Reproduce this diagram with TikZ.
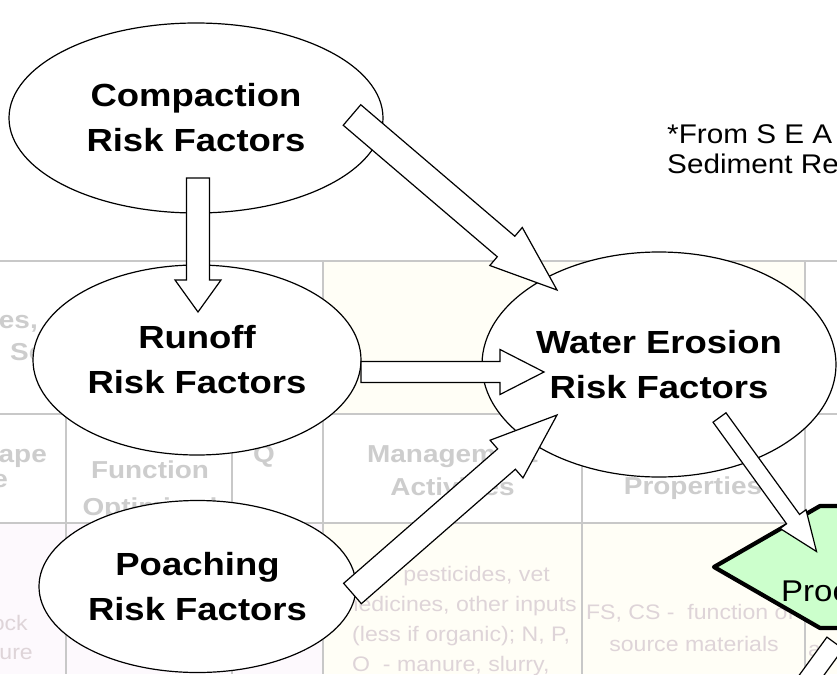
\documentclass[tikz,border=0pt]{standalone}
\usepackage{fontspec}
\setmainfont{Liberation Sans}
\newfontfamily\lblfont[FakeStretch=1.14]{Liberation Sans}
\newfontfamily\notefont[FakeStretch=1.1]{Liberation Sans}
\usetikzlibrary{calc,shapes.geometric}

\definecolor{gridline}{RGB}{200,200,200}
\definecolor{cream}{RGB}{255,254,246}
\definecolor{blush}{RGB}{253,249,253}
\definecolor{hdrtext}{RGB}{205,205,205}
\definecolor{celltext}{RGB}{222,212,216}
\definecolor{boxgreen}{RGB}{204,255,204}

% block arrow: tail, tip, half shaft width, half head width, head length
\newcommand{\blockarrow}[5]{%
  \coordinate (ba-h) at ($(#2)!#5!(#1)$);
  \filldraw[arrowbody]
    ($(#1)!#3!90:(#2)$) -- ($(ba-h)!#3!90:(#2)$) -- ($(ba-h)!#4!90:(#2)$) --
    (#2) --
    ($(ba-h)!#4!-90:(#2)$) -- ($(ba-h)!#3!-90:(#2)$) -- ($(#1)!#3!-90:(#2)$) -- cycle;
}

\begin{document}
\begin{tikzpicture}[x=1pt,y=-1pt,
  grid/.style={draw=gridline, line width=1.8pt},
  risk/.style={ellipse, draw=black, line width=1.2pt, fill=white, inner sep=0pt,
    align=center, font=\lblfont\fontsize{32pt}{45pt}\selectfont\bfseries},
  arrowbody/.style={draw=black, fill=white, line width=1.2pt},
  hdr/.style={inner sep=0pt, text=hdrtext, font=\lblfont\fontsize{24.5pt}{33pt}\selectfont\bfseries},
  cell/.style={inner sep=0pt, text=celltext, font=\notefont\fontsize{21pt}{30pt}\selectfont},
  note/.style={inner sep=0pt, anchor=base west, font=\notefont\fontsize{27pt}{30pt}\selectfont},
]
\useasboundingbox (0,0) rectangle (837,674);
\clip (0,0) rectangle (837,674);
\fill[white] (0,0) rectangle (837,674);

% faint table in the background
\fill[cream] (323,261) rectangle (805,414);
\fill[blush] (0,523) rectangle (323,674);
\fill[cream] (323,523) rectangle (837,674);
\draw[grid] (0,261) -- (837,261);
\draw[grid] (0,414) -- (837,414);
\draw[grid] (0,523) -- (837,523);
\foreach \gx in {323,805} \draw[grid] (\gx,261) -- (\gx,674);
\foreach \gx in {66,232,582} \draw[grid] (\gx,414) -- (\gx,674);

\node[hdr, anchor=base east] (t1) at (38,328) {ses,};
\node[hdr, anchor=base west] (t2) at (10,360) {Se};
\node[hdr, anchor=base east] (t3) at (47,462) {ape};
\node[hdr, anchor=base east] (t4) at (8,487) {e};
\node[hdr, anchor=base] (t5) at (150,478) {Function};
\node[hdr, anchor=base] (t6) at (150,515) {Optimized};
\node[hdr, anchor=base] (t10) at (264,462) {Q};
\node[hdr, anchor=base] (t7) at (452.5,462) {Management};
\node[hdr, anchor=base] (t8) at (452.5,495) {Activities};
\node[hdr, anchor=base] (t9) at (693,494) {Properties};

\node[cell, anchor=base east] (c1) at (28,630) {ock};
\node[cell, anchor=base east] (c2) at (33,659) {ure};
\node[cell, anchor=base east] (c3) at (550,581) {pesticides, vet};
\node[cell, anchor=base east] (c4) at (577,611) {medicines, other inputs};
\node[cell, anchor=base west] (c5) at (352,641) {(less if organic); N, P,};
\node[cell, anchor=base west] (c6) at (352,671) {O\ \ - manure, slurry,};
\node[cell, anchor=base] (c7) at (690,619) {FS, CS -\ \ function of};
\node[cell, anchor=base] (c8) at (694,651) {source materials};
\node[cell, anchor=base west] (c9) at (808,656) {a};

% risk factor ellipses
\node[risk, minimum width=374pt, minimum height=190pt] (comp) at (196,118) {Compaction\\Risk Factors};
\node[risk, minimum width=328pt, minimum height=190pt] (runoff) at (197,360) {Runoff\\Risk Factors};
\node[risk, minimum width=317pt, minimum height=172pt] (poach) at (197.5,586.5) {Poaching\\Risk Factors};
\node[risk, minimum width=354pt, minimum height=225pt] (water) at (659,364.5) {Water Erosion\\Risk Factors};

% source note
\node[note] (n1) at (667,143) {*From S E A};
\node[note] (n2) at (667,173) {Sediment Re};

% green process box
\draw[line width=4.2pt, line join=round, fill=boxgreen]
  (714,567) -- (820,506) -- (860,506) -- (860,628) -- (820,628) -- cycle;
\node[anchor=base west, inner sep=0pt, font=\notefont\fontsize{30pt}{36pt}\selectfont] (prod) at (781,601) {Proc};

% connectors
\coordinate (compA) at ($(comp.center)+(2,60)$);
\coordinate (runA)  at ($(runoff.center)+(1,-48)$);
\blockarrow{compA}{runA}{11.5pt}{23pt}{32pt}

\coordinate (compB) at ($(comp.center)+(156,-3)$);
\coordinate (watB)  at ($(water.center)+(-102,-74.5)$);
\blockarrow{compB}{watB}{13.5pt}{25pt}{67pt}

\coordinate (runC) at ($(runoff.center)+(164,12)$);
\coordinate (watC) at ($(water.center)+(-115,7.5)$);
\blockarrow{runC}{watC}{10.5pt}{22.5pt}{44pt}

\coordinate (poaD) at ($(poach.center)+(155,7)$);
\coordinate (watD) at ($(water.center)+(-102,50.5)$);
\blockarrow{poaD}{watD}{13.5pt}{25pt}{67pt}

\coordinate (watE) at ($(water.center)+(60.5,53)$);
\coordinate (prodE) at ($(prod.base west)+(35.5,-49.5)$);
\blockarrow{watE}{prodE}{8pt}{16pt}{40pt}

% outgoing arrow below the box, running off the lower edge
\coordinate (prodF) at ($(prod.base west)+(54,42)$);
\coordinate (downF) at ($(prodF)+(-88.5,121.5)$);
\blockarrow{prodF}{downF}{10pt}{20pt}{40pt}
\end{tikzpicture}
\end{document}
